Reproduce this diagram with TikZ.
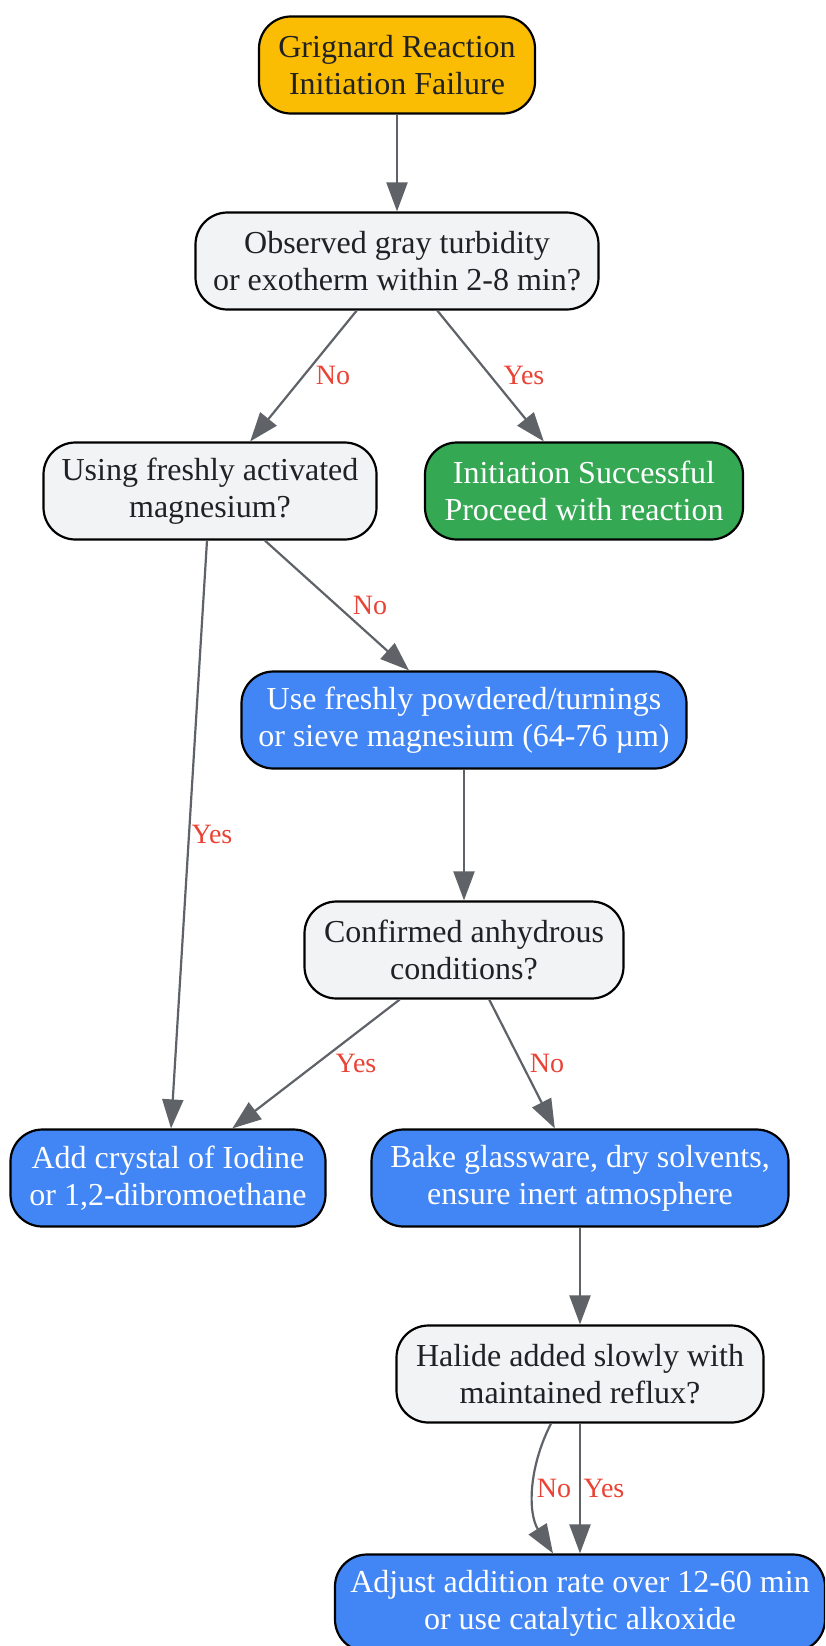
\documentclass[tikz,border=0pt]{standalone}
\usepackage{fontspec}
\setmainfont{Liberation Serif}
\usetikzlibrary{arrows.meta}
\definecolor{cyellow}{HTML}{FBBC04}
\definecolor{cgray}{HTML}{F1F3F4}
\definecolor{cgreen}{HTML}{34A853}
\definecolor{cblue}{HTML}{4285F4}
\definecolor{cedge}{HTML}{5F6368}
\definecolor{clabel}{HTML}{EA4335}
\definecolor{ctext}{HTML}{202124}
\tikzset{
  box/.style={draw=black, line width=2.2pt, rounded corners=32pt, minimum height=97pt,
    align=center, inner sep=0pt, font=\fontsize{32}{37}\selectfont},
  qbox/.style={box, fill=cgray, text=ctext},
  startbox/.style={box, fill=cyellow, text=ctext},
  okbox/.style={box, fill=cgreen, text=white},
  actbox/.style={box, fill=cblue, text=white},
  edge/.style={draw=cedge, line width=2.2pt, -{Triangle[length=29pt,width=21pt]}},
  lbl/.style={text=clabel, font=\fontsize{28}{32}\selectfont, inner sep=0pt}
}
\begin{document}
\begin{tikzpicture}[x=1pt,y=-1pt]
\useasboundingbox (0,0) rectangle (825,1646);
\clip (0,0) rectangle (825,1646);
\fill[white] (0,0) rectangle (825,1646);

\node[startbox, minimum width=276pt] (n1) at (397,65) {Grignard Reaction\\Initiation Failure};
\node[qbox, minimum width=403pt] (n2) at (397,261) {Observed gray turbidity\\or exotherm within 2-8 min?};
\node[qbox, minimum width=333pt] (n3) at (210,491) {Using freshly activated\\magnesium?};
\node[okbox, minimum width=318pt] (n4) at (584,491) {Initiation Successful\\Proceed with reaction};
\node[actbox, minimum width=445pt] (n5) at (464,720) {Use freshly powdered/turnings\\or sieve magnesium (64-76 µm)};
\node[qbox, minimum width=319pt] (n6) at (464,950) {Confirmed anhydrous\\conditions?};
\node[actbox, minimum width=315pt] (n7) at (168,1178) {Add crystal of Iodine\\or 1,2-dibromoethane};
\node[actbox, minimum width=417pt] (n8) at (580,1178) {Bake glassware, dry solvents,\\ensure inert atmosphere};
\node[qbox, minimum width=367pt] (n9) at (580,1374) {Halide added slowly with\\maintained reflux?};
\node[actbox, minimum width=490pt] (n10) at (580,1603) {Adjust addition rate over 12-60 min\\or use catalytic alkoxide};

\draw[edge] (n1) -- (n2);
\draw[edge] (n2) -- (n3);
\draw[edge] (n2) -- (n4);
\draw[edge] (n3) -- (n7);
\draw[edge] (n3) -- (n5);
\draw[edge] (n5) -- (n6);
\draw[edge] (n6) -- (n7);
\draw[edge] (n6) -- (n8);
\draw[edge] (n8) -- (n9);
\draw[edge] ([xshift=-29pt]n9.south) .. controls ([xshift=-52pt,yshift=-45pt]n9.south) and ([xshift=-52pt,yshift=40pt]n10.north) .. ([xshift=-27pt]n10.north);
\draw[edge] (n9) -- (n10);

\node[lbl] (l1) at (333,375) {No};
\node[lbl] (l2) at (524,375) {Yes};
\node[lbl] (l3) at (370,605) {No};
\node[lbl] (l4) at (212,834) {Yes};
\node[lbl] (l5) at (356,1063) {Yes};
\node[lbl] (l6) at (547,1063) {No};
\node[lbl] (l7) at (554,1488) {No};
\node[lbl] (l8) at (604,1488) {Yes};
\end{tikzpicture}
\end{document}
